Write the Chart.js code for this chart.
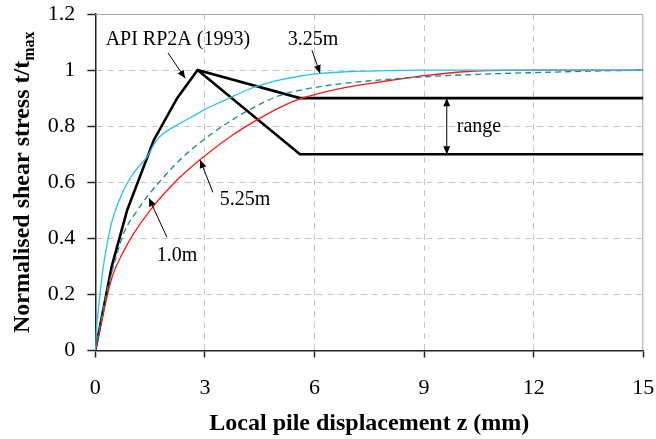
<!DOCTYPE html>
<html>
<head>
<meta charset="utf-8">
<script src="https://cdn.jsdelivr.net/npm/chart.js@4.4.1/dist/chart.umd.min.js"></script>
<style>
  html, body { margin: 0; padding: 0; background: #fff; }
  #wrap { width: 656px; height: 439px; }
</style>
</head>
<body>
<div id="wrap"><canvas id="c" width="656" height="439"></canvas></div>
<script>
// axis ticks
const xTicks = [0, 3, 6, 9, 12, 15]
const xTickLabels = ['0', '3', '6', '9', '12', '15']
const yTicks = [0, 0.2, 0.4, 0.6, 0.8, 1, 1.2]
const yTickLabels = ['0', '0.2', '0.4', '0.6', '0.8', '1', '1.2']

// API RP2A (1993) t-z curve, peak then two residual levels
const apiUpperX = [0, 0.45, 0.87, 1.6, 2.24, 2.8, 5.6, 15]
const apiUpperY = [0, 0.3, 0.5, 0.75, 0.9, 1.0, 0.9, 0.9]
const apiLowerX = [2.8, 5.6, 15]
const apiLowerY = [1.0, 0.7, 0.7]

// measured curves at three depths
const d325X = [0, 0.03, 0.12, 0.21, 0.31, 0.4, 0.49, 0.77, 1.04, 1.41, 1.68, 1.86, 2.32, 2.87, 3.0, 3.5, 3.78, 4.14, 4.33, 4.69, 5.06, 5.6, 6.15, 7, 8, 9, 15]
const d325Y = [0, 0.07, 0.19, 0.29, 0.37, 0.43, 0.476, 0.571, 0.631, 0.69, 0.75, 0.774, 0.81, 0.85, 0.86, 0.89, 0.907, 0.928, 0.938, 0.953, 0.965, 0.978, 0.988, 0.995, 0.998, 1.0, 1.0]

const d525X = [0, 0.12, 0.3, 0.48, 0.76, 1.04, 1.5, 2.23, 2.59, 2.87, 3.23, 3.78, 4.14, 4.69, 5.06, 5.6, 6.15, 6.7, 7.5, 8.0, 8.6, 9.0, 10.2, 12, 15]
const d525Y = [0, 0.07, 0.18, 0.27, 0.35, 0.415, 0.5, 0.607, 0.65, 0.681, 0.718, 0.77, 0.8, 0.842, 0.867, 0.897, 0.918, 0.934, 0.952, 0.962, 0.973, 0.98, 0.995, 1.0, 1.0]

const d10X = [0, 0.3, 0.57, 0.8, 1.1, 1.44, 2.04, 2.32, 2.59, 2.87, 3.23, 3.78, 4.14, 4.69, 5.06, 5.6, 6.15, 6.7, 8, 9, 10.5, 12, 13.5, 15]
const d10Y = [0, 0.2, 0.333, 0.425, 0.49, 0.552, 0.643, 0.68, 0.712, 0.742, 0.777, 0.825, 0.853, 0.89, 0.91, 0.928, 0.941, 0.951, 0.967, 0.976, 0.985, 0.991, 0.996, 1.0]

// text labels with leader arrows (data coordinates)
const notes = [
  { text: 'API RP2A (1993)', x: 2.26, y: 1.107, from: [1.99, 1.061], to: [2.46, 0.971] },
  { text: '3.25m', x: 5.96, y: 1.107, from: [5.93, 1.071], to: [6.15, 0.989] },
  { text: '5.25m', x: 4.10, y: 0.536, from: [3.22, 0.564], to: [2.87, 0.679] },
  { text: '1.0m', x: 2.24, y: 0.339, from: [1.96, 0.404], to: [1.47, 0.543] }
]
const rangeNote = { text: 'range', x: 9.62, top: 0.9, bottom: 0.7 }

const serif = '"Liberation Serif", "Times New Roman", serif'
const pts = (xs, ys) => xs.map((x, i) => ({ x, y: ys[i] }))

const arrowHead = (ctx, x1, y1, x2, y2) => {
  const a = Math.atan2(y2 - y1, x2 - x1)
  const len = 8, half = 3.5
  ctx.beginPath()
  ctx.moveTo(x2, y2)
  ctx.lineTo(x2 - len * Math.cos(a) + half * Math.sin(a), y2 - len * Math.sin(a) - half * Math.cos(a))
  ctx.lineTo(x2 - len * Math.cos(a) - half * Math.sin(a), y2 - len * Math.sin(a) + half * Math.cos(a))
  ctx.closePath()
  ctx.fill()
}

const decor = {
  id: 'decor',
  beforeDatasetsDraw(chart) {
    const { ctx, chartArea: a } = chart
    // light frame on top and right
    ctx.save()
    ctx.strokeStyle = '#a6a6a6'
    ctx.lineWidth = 1
    ctx.beginPath()
    ctx.moveTo(a.left, a.top + 0.5)
    ctx.lineTo(a.right - 0.5, a.top + 0.5)
    ctx.lineTo(a.right - 0.5, a.bottom)
    ctx.stroke()
    ctx.restore()
  },
  afterDatasetsDraw(chart) {
    const { ctx } = chart
    const xs = chart.scales.x, ys = chart.scales.y
    const px = v => xs.getPixelForValue(v)
    const py = v => ys.getPixelForValue(v)
    ctx.save()
    ctx.fillStyle = '#000'
    ctx.strokeStyle = '#000'
    ctx.lineWidth = 1
    ctx.font = '20px ' + serif
    ctx.textAlign = 'center'
    ctx.textBaseline = 'middle'
    notes.forEach(n => {
      ctx.fillText(n.text, px(n.x), py(n.y))
      const x1 = px(n.from[0]), y1 = py(n.from[1]), x2 = px(n.to[0]), y2 = py(n.to[1])
      ctx.beginPath()
      ctx.moveTo(x1, y1)
      ctx.lineTo(x2, y2)
      ctx.stroke()
      arrowHead(ctx, x1, y1, x2, y2)
    })
    const rx = px(rangeNote.x), rt = py(rangeNote.top), rb = py(rangeNote.bottom)
    ctx.beginPath()
    ctx.moveTo(rx, rt)
    ctx.lineTo(rx, rb)
    ctx.stroke()
    arrowHead(ctx, rx, rb, rx, rt)
    arrowHead(ctx, rx, rt, rx, rb)
    ctx.textAlign = 'left'
    ctx.fillText(rangeNote.text, rx + 10, (rt + rb) / 2 + 1)

    // axis titles
    const a = chart.chartArea
    ctx.font = 'bold 24px ' + serif
    ctx.textAlign = 'center'
    ctx.textBaseline = 'alphabetic'
    ctx.fillText('Local pile displacement z (mm)', (a.left + a.right) / 2, 429.5)

    const main = 'Normalised shear stress t/t'
    const sub = 'max'
    ctx.font = 'bold 24px ' + serif
    const wMain = ctx.measureText(main).width
    ctx.font = 'bold 16px ' + serif
    const wSub = ctx.measureText(sub).width
    ctx.translate(29, (a.top + a.bottom) / 2)
    ctx.rotate(-Math.PI / 2)
    ctx.textAlign = 'left'
    const start = -(wMain + wSub) / 2
    ctx.font = 'bold 24px ' + serif
    ctx.fillText(main, start, 0)
    ctx.font = 'bold 16px ' + serif
    ctx.fillText(sub, start + wMain, 5)
    ctx.restore()
  }
}

const gridColor = edge => ctx => {
  const v = ctx.tick ? ctx.tick.value : null
  return (v === null || v === edge[0] || v === edge[1]) ? 'rgba(0,0,0,0)' : '#c4c4c4'
}

// fixed box sizes, no extra padding for overhanging labels
const fixBox = (w, h) => s => {
  if (w !== null) s.width = w
  if (h !== null) s.height = h
  s.paddingLeft = s.paddingRight = s.paddingTop = s.paddingBottom = 0
}

new Chart(document.getElementById('c').getContext('2d'), {
  type: 'line',
  data: {
    datasets: [
      { label: '3.25m', data: pts(d325X, d325Y), borderColor: '#25c4f7', borderWidth: 1.3, cubicInterpolationMode: 'monotone' },
      { label: '1.0m', data: pts(d10X, d10Y), borderColor: '#178a8a', borderWidth: 1.3, borderDash: [6, 4], cubicInterpolationMode: 'monotone' },
      { label: '5.25m', data: pts(d525X, d525Y), borderColor: '#ff1a1a', borderWidth: 1.3, cubicInterpolationMode: 'monotone' },
      { label: 'API upper', data: pts(apiUpperX, apiUpperY), borderColor: '#000', borderWidth: 2.6, tension: 0 },
      { label: 'API lower', data: pts(apiLowerX, apiLowerY), borderColor: '#000', borderWidth: 2.6, tension: 0 }
    ]
  },
  options: {
    responsive: false,
    animation: false,
    elements: { point: { radius: 0 }, line: { borderJoinStyle: 'miter', borderCapStyle: 'butt' } },
    layout: { padding: { top: 14, right: 12.7, left: 0, bottom: 0 } },
    plugins: { legend: { display: false }, tooltip: { enabled: false } },
    scales: {
      x: {
        type: 'linear',
        min: 0, max: 15,
        afterFit: fixBox(null, 88.5),
        afterBuildTicks: s => { s.ticks = xTicks.map(value => ({ value })) },
        ticks: {
          callback: (v, i) => xTickLabels[i],
          font: { family: serif, size: 22 },
          color: '#000',
          padding: 18,
          maxRotation: 0
        },
        grid: { color: gridColor([0, 15]), lineWidth: 1, tickColor: '#222', tickLength: 7, tickWidth: 1.5 },
        border: { color: '#222', width: 1.5, dash: [6, 5] }
      },
      y: {
        type: 'linear',
        min: 0, max: 1.2,
        afterFit: fixBox(95.3, null),
        afterBuildTicks: s => { s.ticks = yTicks.map(value => ({ value })) },
        ticks: {
          callback: (v, i) => yTickLabels[i],
          font: { family: serif, size: 22 },
          color: '#000',
          padding: 12
        },
        grid: { color: gridColor([0, 1.2]), lineWidth: 1, tickColor: '#222', tickLength: 8, tickWidth: 1.5 },
        border: { color: '#222', width: 1.5, dash: [6, 5] }
      }
    }
  },
  plugins: [decor]
})
</script>
</body>
</html>
